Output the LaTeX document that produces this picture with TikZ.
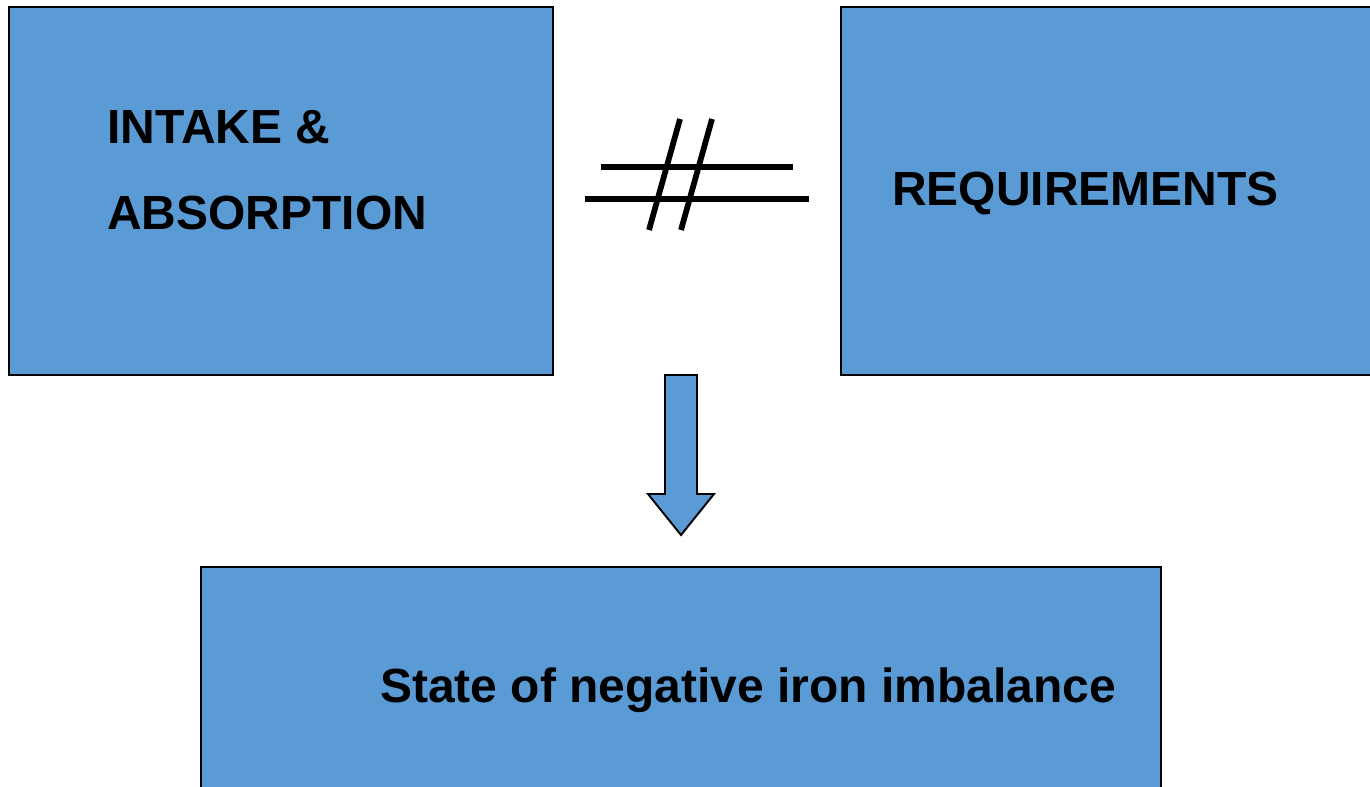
\documentclass[tikz,border=0pt]{standalone}
\usepackage{fontspec}
\setmainfont{Liberation Sans}
\usetikzlibrary{arrows.meta,positioning,calc}
\definecolor{panel}{HTML}{5B9BD5}
\definecolor{ink}{HTML}{000000}
\tikzset{
  box/.style={
    draw=ink, fill=panel, line width=1.2pt,
    rectangle, inner sep=0pt
  },
  caption/.style={
    inner sep=0pt, align=left, text=ink,
    font=\fontsize{27.3}{49.5}\selectfont\bfseries
  },
  neqline/.style={draw=ink, line width=0.115cm},
  blockarrow/.style={draw=ink, fill=panel, line width=1.1pt, line join=miter}
}

\begin{document}
\begin{tikzpicture}[
        x=0.02cm, y=-0.02cm,
        sidebox/.style={box, minimum width=10.88cm, minimum height=7.36cm},
        widebox/.style={box, minimum width=19.2cm, minimum height=4.92cm}
      ]
        \useasboundingbox (0,0) rectangle (1370,787);
        \clip (0,0) rectangle (1370,787);
        \node[sidebox] (intake) at (281,191) {};
        \node[sidebox] (req) at (1113,191) {};
        \node[widebox] (state) at (681,690) {};
        \node[caption, anchor=base west] (intaketxt) at (107,230) {INTAKE \&\\ABSORPTION};
        \node[caption, anchor=base west] (reqtxt) at (892,206) {REQUIREMENTS};
        \node[caption, anchor=base west] (statetxt) at (380,702) {State of negative iron imbalance};
        \draw[neqline] (601,167) -- (793,167);
        \draw[neqline] (585,199) -- (809,199);
        \draw[neqline] (680,119) -- (649,230);
        \draw[neqline] (712,119) -- (681,230);
        \draw[blockarrow] (665,375) -- (697,375) -- (697,494) -- (714,494)
          -- (681,535) -- (648,494) -- (665,494) -- cycle;
      \end{tikzpicture}
\end{document}
